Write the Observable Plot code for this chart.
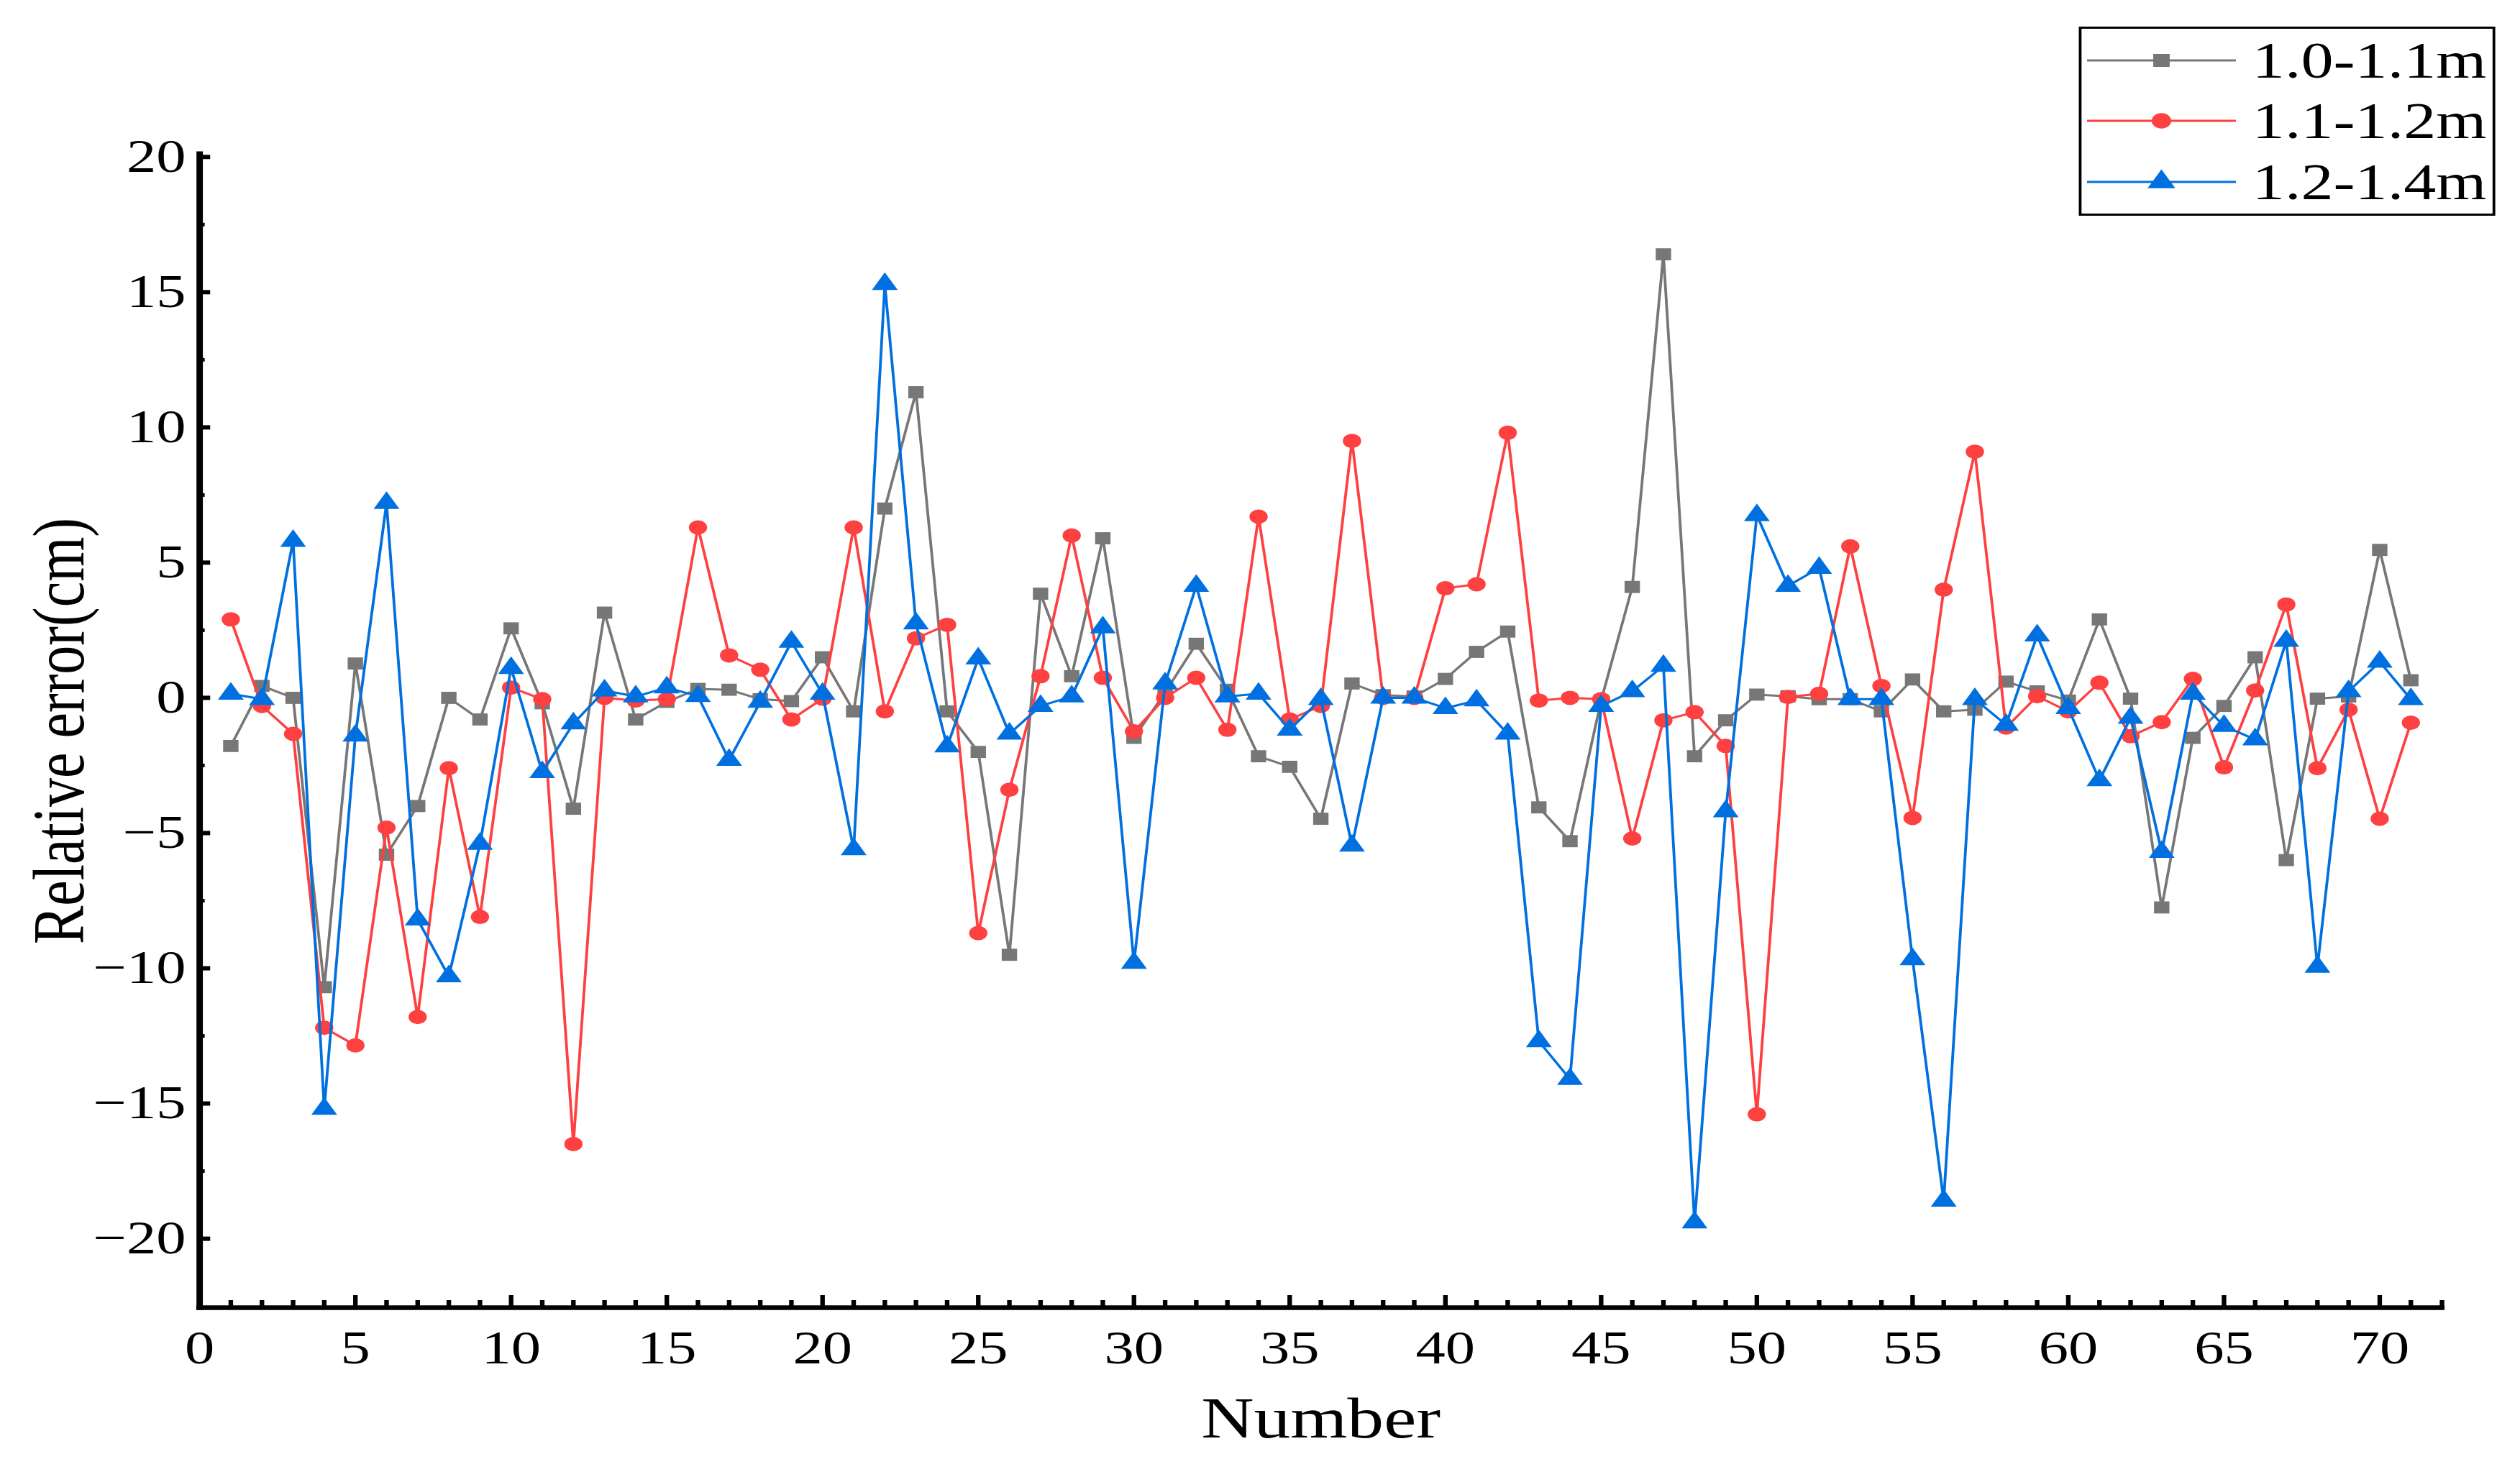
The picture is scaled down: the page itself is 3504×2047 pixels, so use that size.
<!DOCTYPE html>
<html><head><meta charset="utf-8">
<script src="https://cdn.jsdelivr.net/npm/d3@7"></script>
<script src="https://cdn.jsdelivr.net/npm/@observablehq/plot@0.6"></script>
<style>
html,body{margin:0;padding:0;background:#fff;overflow:hidden;}
#wrap{position:relative;width:2759px;height:2047px;transform:scaleX(1.27);transform-origin:0 0;font-family:'Liberation Serif','Times New Roman',serif;}
#legend{position:absolute;left:2276px;top:37px;width:456px;height:263px;border:3px solid #000;box-sizing:border-box;background:#fff;}
.row{position:absolute;left:0;width:100%;height:80px;}
.row svg{position:absolute;left:6px;top:0;overflow:visible;}
.row span{position:absolute;left:187px;top:0;line-height:80px;font-size:71px;white-space:nowrap;color:#000;}
</style></head><body>
<div id="wrap"></div>
<script>
// ---------- data ----------
const seriesNames = ["1.0-1.1m", "1.1-1.2m", "1.2-1.4m"];
const sampleNumber = d3.range(1, 72);
const err_1_0_1_1 = [-1.78,0.44,0.0,-10.7,1.27,-5.8,-4.0,0.0,-0.8,2.57,-0.2,-4.1,3.15,-0.8,-0.15,0.33,0.3,-0.05,-0.12,1.5,
  -0.5,7.0,11.3,-0.5,-2.0,-9.5,3.85,0.8,5.9,-1.48,0.2,2.0,0.3,-2.16,-2.55,-4.47,0.53,0.1,0.05,0.7,
  1.7,2.45,-4.05,-5.3,-0.1,4.1,16.4,-2.16,-0.83,0.12,0.06,-0.05,-0.05,-0.5,0.68,-0.5,-0.44,0.6,0.24,-0.1,
  2.9,-0.03,-7.75,-1.48,-0.3,1.5,-6.0,-0.03,0.05,5.47,0.65];
const err_1_1_1_2 = [2.9,-0.3,-1.33,-12.2,-12.85,-4.8,-11.8,-2.6,-8.1,0.38,-0.05,-16.5,0.0,-0.1,-0.05,6.3,1.57,1.04,-0.8,-0.03,
  6.3,-0.5,2.2,2.7,-8.7,-3.4,0.8,6.0,0.74,-1.24,0.0,0.74,-1.18,6.7,-0.8,-0.3,9.5,0.0,0.0,4.05,
  4.2,9.8,-0.1,0.0,-0.05,-5.2,-0.83,-0.53,-1.78,-15.4,0.03,0.15,5.6,0.44,-4.44,4.0,9.1,-1.1,0.06,-0.5,
  0.56,-1.42,-0.9,0.7,-2.57,0.27,3.45,-2.6,-0.44,-4.47,-0.92];
const err_1_2_1_4 = [0.15,-0.05,5.8,-15.2,-1.4,7.2,-8.2,-10.3,-5.4,1.1,-2.75,-0.95,0.27,0.05,0.38,0.06,-2.3,-0.15,2.07,0.15,
  -5.6,15.3,2.75,-1.8,1.45,-1.33,-0.3,0.05,2.6,-9.8,0.53,4.14,0.05,0.15,-1.18,-0.05,-5.47,0.0,0.0,-0.38,
  -0.1,-1.33,-12.7,-14.1,-0.3,0.24,1.18,-19.4,-4.2,6.75,4.14,4.8,-0.05,-0.05,-9.67,-18.6,-0.05,-1.0,2.3,-0.38,
  -3.05,-0.74,-5.7,0.15,-1.04,-1.54,2.1,-9.95,0.24,1.33,-0.05];
const xTicks = [0,5,10,15,20,25,30,35,40,45,50,55,60,65,70];
const yTicks = [-20,-15,-10,-5,0,5,10,15,20];
const xLabel = "Number";
const yLabel = "Relative error(cm)";

// ---------- styles ----------
const colors = ["#777777", "#ff4040", "#0070e0"];
const symbols = ["square", "circle", "triangle"];
const symbolR = [9.5, 10, 10.5];
const d3Symbols = [d3.symbolSquare, d3.symbolCircle, d3.symbolTriangle];

// ---------- layout ----------
const S = 1.27;
const W = 2759, H = 2047;
const mL = 277 / S, mR = 109 / S, mT = 214, mB = 229;
const innerW = W - mL - mR, innerH = H - mT - mB;
const xDomain = [0, 72];
const yDomain = [-22.55, 20.1];
const xMinor = d3.range(1, 73).filter(d => d % 5 !== 0);
const yMinor = yTicks.slice(0, -1).map(d => d + 2.5);

const allSeries = [err_1_0_1_1, err_1_1_1_2, err_1_2_1_4];
const rows = allSeries.map((vals, k) => vals.map((v, i) => ({n: sampleNumber[i], v, series: seriesNames[k]})));

const marks = [];
rows.forEach((data, k) => {
  marks.push(Plot.line(data, {x: "n", y: "v", stroke: colors[k], strokeWidth: 3}));
  marks.push(Plot.dot(data, {x: "n", y: "v", symbol: symbols[k], r: symbolR[k], fill: colors[k], stroke: "none"}));
});

const plot = Plot.plot({
  width: W, height: H,
  marginLeft: mL, marginRight: mR, marginTop: mT, marginBottom: mB,
  style: {fontFamily: "'Liberation Serif','Times New Roman',serif", fontSize: "65px", background: "white", color: "black", overflow: "visible"},
  x: {domain: xDomain, label: null},
  y: {domain: yDomain, label: null},
  marks: [
    ...marks,
    Plot.ruleX([xDomain[0]], {stroke: "black", strokeWidth: 7, strokeLinecap: "square"}),
    Plot.ruleY([yDomain[0]], {stroke: "black", strokeWidth: 6.5, strokeLinecap: "square"}),
    Plot.tickX(xTicks, {x: d => d, insetTop: innerH - 17, stroke: "black", strokeWidth: 5}),
    Plot.tickX(xMinor, {x: d => d, insetTop: innerH - 10, stroke: "black", strokeWidth: 5}),
    Plot.tickY(yTicks, {y: d => d, insetRight: innerW - 12, stroke: "black", strokeWidth: 6}),
    Plot.tickY(yMinor, {y: d => d, insetRight: innerW - 6, stroke: "black", strokeWidth: 5}),
    Plot.axisX({ticks: xTicks, tickSize: 0, tickPadding: 31, label: null}),
    Plot.axisY({ticks: yTicks, tickSize: 0, tickPadding: 15, label: null}),
    Plot.text([xLabel], {text: d => d, frameAnchor: "bottom", dy: 180, lineAnchor: "bottom", fontSize: 80}),
    Plot.text([yLabel], {text: d => d, frameAnchor: "left", textAnchor: "middle", lineAnchor: "middle", dx: -153, rotate: -90, fontSize: 80, ariaLabel: "y-title"})
  ]
});

// undo the horizontal stretch for the rotated title glyphs
d3.select(plot).selectAll('g[aria-label="y-title"] text').each(function() {
  const t = this.getAttribute("transform") || "";
  if (t.includes("rotate(")) this.setAttribute("transform", t.replace("rotate(", `scale(${1 / S},1) rotate(`));
});

const wrap = document.getElementById("wrap");
wrap.appendChild(plot);

// ---------- legend ----------
const legend = document.createElement("div");
legend.id = "legend";
const rowTops = [4, 88, 173];
seriesNames.forEach((name, k) => {
  const row = document.createElement("div");
  row.className = "row";
  row.style.top = rowTops[k] + "px";
  const svg = d3.create("svg").attr("width", 163).attr("height", 80);
  svg.append("line").attr("x1", 0).attr("x2", 163).attr("y1", 40).attr("y2", 40)
    .attr("stroke", colors[k]).attr("stroke-width", 3);
  svg.append("path").attr("transform", "translate(81.5,40)")
    .attr("d", d3.symbol(d3Symbols[k], Math.PI * symbolR[k] * symbolR[k] * 1.15)())
    .attr("fill", colors[k]);
  row.appendChild(svg.node());
  const span = document.createElement("span");
  span.textContent = name;
  row.appendChild(span);
  legend.appendChild(row);
});
wrap.appendChild(legend);
</script></body></html>
